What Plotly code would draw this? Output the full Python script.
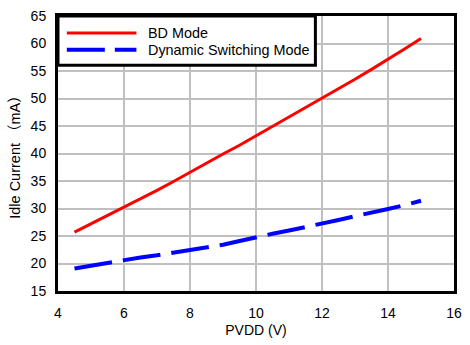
import plotly.graph_objects as go

pvdd = [4.5, 5, 5.5, 6, 6.5, 7, 7.5, 8, 8.5, 9, 9.5, 10, 10.5, 11, 11.5, 12,
        12.5, 13, 13.5, 14, 14.5, 15]
bd_mode = [25.7, 27.2, 28.7, 30.2, 31.7, 33.3, 34.9, 36.6, 38.2, 39.9, 41.5,
           43.2, 44.9, 46.6, 48.3, 50.1, 51.8, 53.5, 55.3, 57.1, 59.0, 60.9]
dyn_mode = [19.1, 19.6, 20.2, 20.7, 21.1, 21.5, 22.0, 22.4, 22.9, 23.4, 24.1,
            24.8, 25.4, 26.0, 26.6, 27.3, 27.9, 28.6, 29.2, 29.9, 30.6, 31.4]
series_names = ["BD Mode", "Dynamic Switching Mode"]
x_ticks = [4, 6, 8, 10, 12, 14, 16]
y_ticks = [15, 20, 25, 30, 35, 40, 45, 50, 55, 60, 65]

FONT = "Liberation Sans, Arial, Noto Sans CJK SC, sans-serif"
RED = "#ff0000"
BLUE = "#0000ff"
DASH = "38px,11px"

fig = go.Figure()
fig.add_trace(go.Scatter(x=pvdd, y=bd_mode, mode="lines", name=series_names[0],
                         line=dict(color=RED, width=3), showlegend=False))
fig.add_trace(go.Scatter(x=pvdd, y=dyn_mode, mode="lines", name=series_names[1],
                         line=dict(color=BLUE, width=4, dash=DASH), showlegend=False))

# Legend box (manual, to match the reference's long line samples)
fig.add_shape(type="rect", xref="paper", yref="paper", x0=0, x1=0.65, y0=0.821, y1=1,
              line=dict(color="black", width=3), fillcolor="white", layer="above")
fig.add_shape(type="line", xref="paper", yref="paper", x0=0.0223, x1=0.198, y0=0.9386, y1=0.9386,
              line=dict(color=RED, width=3), layer="above")
fig.add_shape(type="line", xref="paper", yref="paper", x0=0.0223, x1=0.198, y0=0.877, y1=0.877,
              line=dict(color=BLUE, width=4, dash="38px,10px"), layer="above")
for name, yy in zip(series_names, [0.9386, 0.877]):
    fig.add_annotation(text=name, xref="paper", yref="paper", x=0.2228, y=yy,
                       xanchor="left", yanchor="middle", showarrow=False,
                       font=dict(family=FONT, size=14.4, color="black"))

axis_common = dict(showgrid=True, gridcolor="#c0c0c0", gridwidth=2,
                   showline=True, linecolor="black", linewidth=3, mirror=True,
                   zeroline=False, ticks="",
                   tickfont=dict(family=FONT, size=14, color="black"))
fig.update_xaxes(range=[4, 16], tickvals=x_ticks, ticktext=[str(v) for v in x_ticks],
                 title=dict(text="PVDD (V)", font=dict(family=FONT, size=14, color="black"), standoff=6),
                 ticklabelstandoff=7, **axis_common)
fig.update_yaxes(range=[15, 65], tickvals=y_ticks, ticktext=[str(v) for v in y_ticks],
                 title=dict(text="Idle Current （mA）", font=dict(family=FONT, size=14.5, color="black"), standoff=7),
                 ticklabelstandoff=6, **axis_common)

fig.update_layout(width=470, height=345, margin=dict(l=58, r=8, t=14, b=46),
                  paper_bgcolor="white", plot_bgcolor="white", showlegend=False,
                  font=dict(family=FONT))
fig.write_html("out.html")
